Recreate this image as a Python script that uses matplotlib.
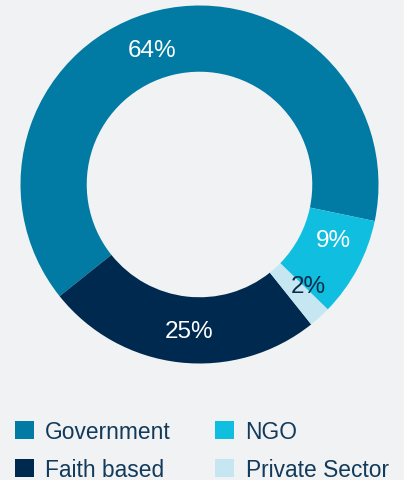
import matplotlib
matplotlib.use("Agg")
import matplotlib.pyplot as plt
import numpy as np
from matplotlib.patches import Patch

# Data
categories = ["Government", "Faith based", "Private Sector", "NGO"]
values = [64, 25, 2, 9]
pct_labels = ["64%", "25%", "2%", "9%"]

# Style
colors = ["#017BA3", "#00294F", "#C6E6F1", "#10BEE0"]
label_colors = ["white", "white", "#0B2C48", "white"]
label_nudge = [(-0.076, -0.045), (0.032, -0.005), (0.058, 0.038), (0.026, 0.073)]
bg = "#F1F2F4"
text_dark = "#123A5A"

plt.rcParams['font.family'] = ['Liberation Sans', 'DejaVu Sans']

W, H = 404, 481
fig = plt.figure(figsize=(W / 100, H / 100), dpi=100, facecolor=bg)

cx, cy, R = 199.5, 185.5, 179
ax = fig.add_axes([(cx - R) / W, (H - cy - R) / H, 2 * R / W, 2 * R / H])
ax.set_facecolor(bg)

wedges, _ = ax.pie(values, colors=colors, startangle=-11.8, counterclock=True,
                   radius=1.0, wedgeprops=dict(width=0.37, edgecolor='none', linewidth=0))
ax.set_xlim(-1, 1)
ax.set_ylim(-1, 1)
ax.set_aspect('equal')
ax.axis('off')

for w, lab, col, (nx, ny) in zip(wedges, pct_labels, label_colors, label_nudge):
    ang = np.deg2rad((w.theta1 + w.theta2) / 2)
    r = 0.816
    ax.text(r * np.cos(ang) + nx, r * np.sin(ang) + ny, lab, ha='center', va='center',
            fontsize=17.5, color=col)

handles = [Patch(facecolor=colors[i], edgecolor='none', label=categories[i]) for i in [0, 1, 3, 2]]
leg = fig.legend(handles=handles, ncol=2, loc='upper left',
                 bbox_to_anchor=(10 / W, 1 - 416 / H), frameon=False,
                 fontsize=16.4, handlelength=0.85, handleheight=0.85,
                 handletextpad=0.5, columnspacing=1.92, labelspacing=0.68,
                 borderpad=0.2, borderaxespad=0)
for t in leg.get_texts():
    t.set_color(text_dark)

fig.savefig("out.png", dpi=100, facecolor=bg)
